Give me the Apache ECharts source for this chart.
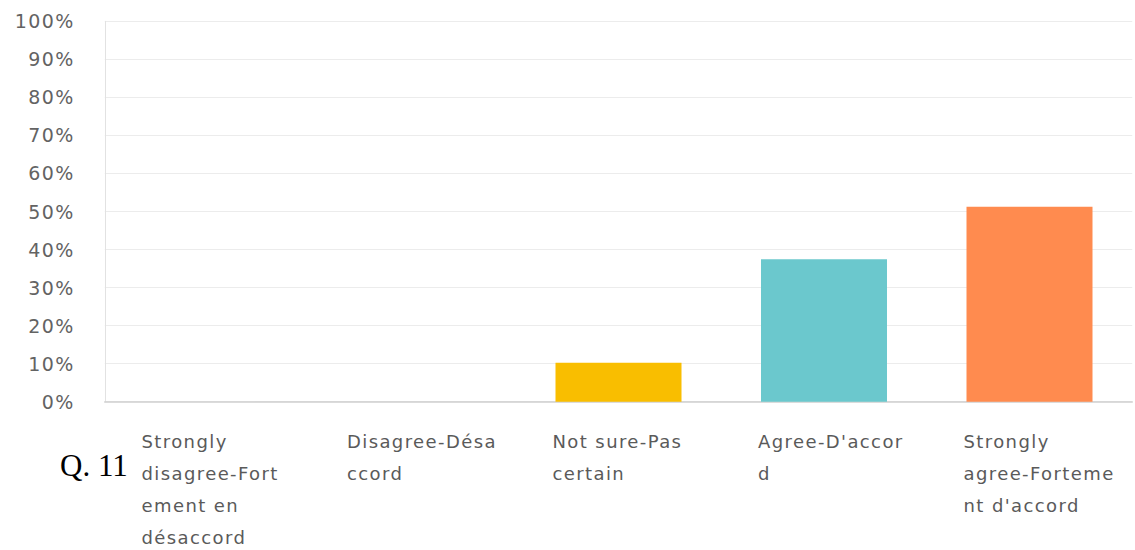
<!DOCTYPE html>
<html>
<head>
<meta charset="utf-8">
<title>Q. 11</title>
<script src="https://cdn.jsdelivr.net/npm/echarts@6/dist/echarts.min.js"></script>
<style>
  html, body { margin: 0; padding: 0; background: #ffffff; }
  #chart { width: 1135px; height: 550px; }
  /* the survey font is tracked out a little */
  #chart text { letter-spacing: 1.4px; }
  #chart text[style*="Serif"] { letter-spacing: 0; }
</style>
</head>
<body>
<div id="chart"></div>
<script>
// Answer options, as printed under each bar (wrapped the way the survey tool wraps them)
const categories = [
  'Strongly\ndisagree-Fort\nement en\ndésaccord',
  'Disagree-Désa\nccord',
  'Not sure-Pas\ncertain',
  'Agree-D\'accor\nd',
  'Strongly\nagree-Forteme\nnt d\'accord'
];
// Share of respondents (%) per answer
const shares = [0, 0, 10.26, 37.44, 51.28];
// One colour per answer
const barColors = ['#5B9BD5', '#A5A5A5', '#F9BE00', '#6BC8CD', '#FF8B4F'];
const questionLabel = 'Q. 11';

const chart = echarts.init(document.getElementById('chart'), null, { renderer: 'svg' });

chart.setOption({
  animation: false,
  backgroundColor: '#ffffff',
  grid: {
    left: 104.75, right: 2.75, top: 21.3, bottom: 148.3,
    containLabel: false,
    outerBoundsMode: 'none'
  },
  xAxis: {
    type: 'category',
    data: categories,
    boundaryGap: true,
    axisLine: { show: true, lineStyle: { color: '#cfcfcf', width: 1.5 } },
    axisTick: { show: false },
    axisLabel: {
      interval: 0,
      margin: 24,
      align: 'left',
      padding: [0, 0, 0, -66],
      color: '#5a5a5a',
      fontFamily: '"DejaVu Sans"',
      fontSize: 18,
      lineHeight: 32
    }
  },
  yAxis: {
    type: 'value',
    min: 0,
    max: 100,
    interval: 10,
    axisLine: { show: true, lineStyle: { color: '#e2e2e2', width: 1 } },
    axisTick: { show: false },
    axisLabel: {
      margin: 30,
      formatter: '{value}%',
      color: '#636363',
      fontFamily: '"DejaVu Sans"',
      fontSize: 19
    },
    splitLine: { show: true, lineStyle: { color: '#ececec', width: 1 } }
  },
  series: [{
    type: 'bar',
    barWidth: 126,
    data: shares.map((v, i) => ({ value: v, itemStyle: { color: barColors[i] } }))
  }],
  graphic: [{
    type: 'text',
    left: 60,
    top: 450,
    style: {
      text: questionLabel,
      fill: '#000000',
      font: '31px "Liberation Serif", serif'
    }
  }]
});
</script>
</body>
</html>
